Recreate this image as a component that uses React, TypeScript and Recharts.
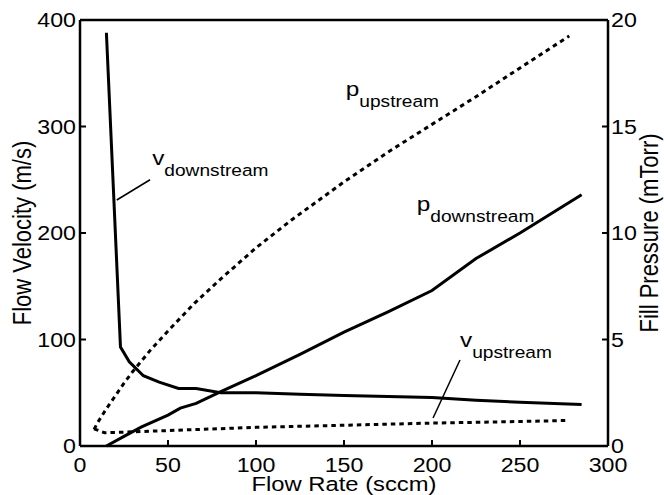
import React from "react";
import { LineChart, Line, XAxis, YAxis, ReferenceLine, ReferenceDot, Label } from "recharts";

// Flow velocity (left axis) and fill pressure (right axis) against flow rate.

const FONT = '"Liberation Sans", Arial, Helvetica, sans-serif';
const INK = "#000";
const SX = 1.16; // lettering is drawn a little wide

const W = 664;
const H = 495;

const flowTicks = [0, 50, 100, 150, 200, 250, 300];
const velocityTicks = [0, 100, 200, 300, 400];
const pressureTicks = [0, 5, 10, 15, 20];

// v_downstream (m/s)
const vDownFlow = [15, 23, 28, 36, 45, 56, 66, 80, 100, 125, 150, 175, 200, 225, 250, 285];
const vDownVel = [388, 93, 79, 66, 60, 54, 54, 50, 50, 48.5, 47.5, 46.5, 45.5, 43, 41, 39];

// v_upstream (m/s)
const vUpFlow = [8, 14, 25, 50, 75, 100, 150, 200, 250, 278];
const vUpVel = [16, 12.5, 13, 14.5, 16, 17.5, 19.5, 21.5, 23, 24];

// p_downstream (mTorr)
const pDownFlow = [15, 25, 35, 50, 57, 66, 80, 100, 125, 150, 175, 200, 225, 250, 285];
const pDownP = [0, 0.45, 0.9, 1.45, 1.78, 2.0, 2.55, 3.3, 4.3, 5.35, 6.3, 7.3, 8.8, 10.0, 11.8];

// p_upstream (mTorr)
const pUpFlow = [8, 10, 15, 20, 25, 30, 40, 50, 65, 80, 100, 120, 150, 175, 200, 225, 250, 278];
const pUpP = [0.78, 1.1, 1.75, 2.35, 2.95, 3.5, 4.5, 5.4, 6.7, 7.85, 9.3, 10.6, 12.4, 13.8, 15.1, 16.4, 17.75, 19.25];

const zip = (xs: number[], ys: number[]) => xs.map((flow, i) => ({ flow, value: ys[i] }));
const vDown = zip(vDownFlow, vDownVel);
const vUp = zip(vUpFlow, vUpVel);
const pDown = zip(pDownFlow, pDownP);
const pUp = zip(pUpFlow, pUpP);

function Txt({ x, y, size, anchor = "start", rotate = false, children }: any) {
  const t = `translate(${x},${y}) scale(${SX},1)${rotate ? " rotate(-90)" : ""}`;
  return (
    <text transform={t} fontSize={size} fontFamily={FONT} fill={INK} textAnchor={anchor}>
      {children}
    </text>
  );
}

const inner = (v: number, lo: number, hi: number) => v !== lo && v !== hi;

function BottomTick({ x, y, payload }: any) {
  return (
    <g>
      {inner(payload.value, 0, 300) && <line x1={x} x2={x} y1={y} y2={y - 6} stroke={INK} strokeWidth={2} />}
      <Txt x={x} y={y + 26} size={20} anchor="middle">{payload.value}</Txt>
    </g>
  );
}

function TopTick({ x, y, payload }: any) {
  if (!inner(payload.value, 0, 300)) return <g />;
  return <line x1={x} x2={x} y1={y} y2={y + 6} stroke={INK} strokeWidth={2} />;
}

function LeftTick({ x, y, payload }: any) {
  return (
    <g>
      {inner(payload.value, 0, 400) && <line x1={x} x2={x + 6} y1={y} y2={y} stroke={INK} strokeWidth={2} />}
      <Txt x={x - 4} y={y + 7} size={20} anchor="end">{payload.value}</Txt>
    </g>
  );
}

function RightTick({ x, y, payload }: any) {
  return (
    <g>
      {inner(payload.value, 0, 20) && <line x1={x} x2={x - 6} y1={y} y2={y} stroke={INK} strokeWidth={2} />}
      <Txt x={x + 3} y={y + 7} size={20} anchor="start">{payload.value}</Txt>
    </g>
  );
}

// symbol with a subscript, anchored at the symbol's baseline
function SubText({ viewBox, sym, sub }: any) {
  const { x, y } = viewBox;
  return (
    <text transform={`translate(${x},${y}) scale(${SX},1)`} fontFamily={FONT} fill={INK}>
      <tspan fontSize={21}>{sym}</tspan>
      <tspan fontSize={16.5} dy={11}>{sub}</tspan>
    </text>
  );
}

const lineProps = {
  type: "linear" as const,
  dataKey: "value",
  stroke: INK,
  strokeWidth: 3,
  dot: false,
  activeDot: false,
  isAnimationActive: false,
};

const dotted = "4.5 4";

export default function App() {
  return (
    <div style={{ position: "absolute", left: 0, top: 0, width: W, height: H, background: "#fff" }}>
      <LineChart width={W} height={H} margin={{ top: 18, right: 6, bottom: 9, left: 20 }}>
        <XAxis
          type="number"
          dataKey="flow"
          domain={[0, 300]}
          ticks={flowTicks}
          interval={0}
          height={40}
          axisLine={{ stroke: INK, strokeWidth: 2.5 }}
          tickLine={false}
          tickSize={0}
          tickMargin={0}
          tick={<BottomTick />}
        >
          <Label
            content={({ viewBox }: any) => (
              <Txt x={viewBox.x + viewBox.width / 2} y={viewBox.y + 45} size={20.5} anchor="middle">
                Flow Rate (sccm)
              </Txt>
            )}
          />
        </XAxis>
        <XAxis
          xAxisId="top"
          orientation="top"
          type="number"
          dataKey="flow"
          domain={[0, 300]}
          ticks={flowTicks}
          interval={0}
          height={2}
          axisLine={{ stroke: INK, strokeWidth: 2.5 }}
          tickLine={false}
          tickSize={0}
          tickMargin={0}
          tick={<TopTick />}
        />
        <YAxis
          yAxisId="v"
          type="number"
          domain={[0, 400]}
          ticks={velocityTicks}
          interval={0}
          width={60}
          axisLine={{ stroke: INK, strokeWidth: 2.5 }}
          tickLine={false}
          tickSize={0}
          tickMargin={0}
          tick={<LeftTick />}
        >
          <Label
            content={({ viewBox }: any) => (
              <Txt x={viewBox.x + 11} y={viewBox.y + viewBox.height / 2} size={22} anchor="middle" rotate>
                Flow Velocity (m/s)
              </Txt>
            )}
          />
        </YAxis>
        <YAxis
          yAxisId="p"
          orientation="right"
          type="number"
          domain={[0, 20]}
          ticks={pressureTicks}
          interval={0}
          width={50}
          axisLine={{ stroke: INK, strokeWidth: 2.5 }}
          tickLine={false}
          tickSize={0}
          tickMargin={0}
          tick={<RightTick />}
        >
          <Label
            content={({ viewBox }: any) => (
              <Txt x={viewBox.x + 50} y={viewBox.y + viewBox.height / 2} size={22} anchor="middle" rotate>
                Fill Pressure (mTorr)
              </Txt>
            )}
          />
        </YAxis>

        <Line {...lineProps} data={vDown} yAxisId="v" />
        <Line {...lineProps} data={vUp} yAxisId="v" strokeDasharray={dotted} />
        <Line {...lineProps} data={pDown} yAxisId="p" />
        <Line {...lineProps} data={pUp} yAxisId="p" strokeDasharray={dotted} />

        <ReferenceLine yAxisId="v" segment={[{ x: 20.9, y: 231 }, { x: 39.8, y: 250 }]} stroke={INK} strokeWidth={1.5} />
        <ReferenceLine yAxisId="v" segment={[{ x: 215.9, y: 80.8 }, { x: 200.6, y: 26.3 }]} stroke={INK} strokeWidth={1.5} />

        <ReferenceDot yAxisId="v" x={41} y={264} r={0} stroke="none" fill="none" label={<SubText sym="v" sub="downstream" />} />
        <ReferenceDot yAxisId="v" x={151} y={329} r={0} stroke="none" fill="none" label={<SubText sym="p" sub="upstream" />} />
        <ReferenceDot yAxisId="v" x={191.3} y={221} r={0} stroke="none" fill="none" label={<SubText sym="p" sub="downstream" />} />
        <ReferenceDot yAxisId="v" x={215.9} y={93} r={0} stroke="none" fill="none" label={<SubText sym="v" sub="upstream" />} />
      </LineChart>
    </div>
  );
}
